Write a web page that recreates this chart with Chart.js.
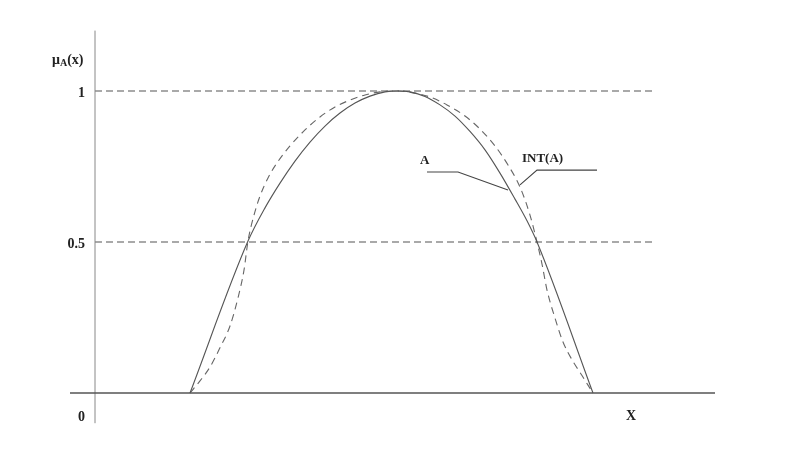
<!DOCTYPE html>
<html>
<head>
<meta charset="utf-8">
<script src="https://cdn.jsdelivr.net/npm/chart.js@4/dist/chart.umd.min.js"></script>
<style>
  html, body { margin: 0; padding: 0; background: #fff; }
  #wrap { width: 795px; height: 452px; }
</style>
</head>
<body>
<div id="wrap"><canvas id="c"></canvas></div>
<script>
// membership function A (solid)
const aX = [95, 153, 170, 185, 200, 215, 230, 245, 260, 275, 290, 303, 315, 330, 345, 360, 375, 390, 405, 420, 432, 442, 498];
const aY = [0, 0.503, 0.613, 0.695, 0.768, 0.831, 0.884, 0.927, 0.960, 0.983, 0.997, 1, 0.997, 0.982, 0.954, 0.917, 0.866, 0.805, 0.728, 0.642, 0.570, 0.5, 0];

// intensified INT(A) (dashed)
const intX = [95, 105, 115, 125, 135, 143, 149, 153, 159, 165, 173, 182, 195, 210, 225, 240, 255, 270, 285, 303,
  320, 335, 352, 370, 385, 400, 413, 425, 435, 442, 447, 452, 460, 468, 477, 487, 493, 498];
const intY = [0, 0.04, 0.086, 0.150, 0.222, 0.315, 0.407, 0.503, 0.589, 0.652, 0.712, 0.762, 0.818, 0.871, 0.914, 0.947, 0.970, 0.987, 0.997, 1,
  0.993, 0.980, 0.954, 0.917, 0.874, 0.818, 0.755, 0.682, 0.589, 0.5, 0.427, 0.341, 0.248, 0.169, 0.110, 0.058, 0.026, 0];

// reference levels and axis labels
const levels = [1, 0.5];
const levelEnd = 558;
const yTickVals = [1, 0.5, 0];
const yTickLabels = ['1', '0.5', '0'];

// leader lines for the curve names
const leadA = { x: [332, 363, 413], y: [0.732, 0.732, 0.672], label: 'A' };
const leadInt = { x: [502, 442, 425], y: [0.738, 0.738, 0.689], label: 'INT(A)' };

const zip = (xs, ys) => xs.map((x, i) => ({ x, y: ys[i] }));

const datasets = [
  // axes
  { data: [{ x: -25, y: 0 }, { x: 620, y: 0 }], borderColor: '#555', borderWidth: 1.3 },
  { data: [{ x: 0, y: -0.1 }, { x: 0, y: 1.2 }], borderColor: '#888', borderWidth: 1 },
  // horizontal dashed levels
  ...levels.map(l => ({
    data: [{ x: 0, y: l }, { x: levelEnd, y: l }],
    borderColor: '#555', borderWidth: 1.2, borderDash: [7, 4]
  })),
  // curves
  { data: zip(aX, aY), borderColor: '#555', borderWidth: 1.1, cubicInterpolationMode: 'monotone' },
  { data: zip(intX, intY), borderColor: '#666', borderWidth: 1.1, borderDash: [7, 5], cubicInterpolationMode: 'monotone' },
  // leaders
  { data: zip(leadA.x, leadA.y), borderColor: '#444', borderWidth: 1.1 },
  { data: zip(leadInt.x, leadInt.y), borderColor: '#444', borderWidth: 1.1 }
];

const labelsPlugin = {
  id: 'labels',
  afterDraw(chart) {
    const { ctx, scales: { x, y } } = chart;
    ctx.save();
    ctx.fillStyle = '#222';
    ctx.textBaseline = 'middle';
    ctx.font = 'bold 14px "Liberation Serif", serif';

    // y tick labels
    ctx.textAlign = 'right';
    yTickVals.forEach((v, i) => {
      let py = y.getPixelForValue(v);
      if (v === 0) py += 22;
      ctx.fillText(yTickLabels[i], x.getPixelForValue(-10), py + 2);
    });

    // axis names
    ctx.textAlign = 'left';
    const ny = y.getPixelForValue(1.1);
    let px = x.getPixelForValue(-43);
    ctx.fillText('\u03bc', px, ny);
    px += ctx.measureText('\u03bc').width;
    ctx.font = 'bold 10px "Liberation Serif", serif';
    ctx.fillText('A', px, ny + 3);
    px += ctx.measureText('A').width;
    ctx.font = 'bold 14px "Liberation Serif", serif';
    ctx.fillText('(x)', px, ny);

    ctx.textAlign = 'center';
    ctx.fillText('X', x.getPixelForValue(536), y.getPixelForValue(0) + 23);

    // curve names
    ctx.font = 'bold 13px "Liberation Serif", serif';
    ctx.textAlign = 'left';
    ctx.fillText(leadA.label, x.getPixelForValue(leadA.x[0] - 7), y.getPixelForValue(leadA.y[0]) - 11);
    ctx.fillText(leadInt.label, x.getPixelForValue(leadInt.x[1] - 15), y.getPixelForValue(leadInt.y[0]) - 11);
    ctx.restore();
  }
};

new Chart(document.getElementById('c'), {
  type: 'line',
  data: { datasets: datasets.map(d => Object.assign({ pointRadius: 0, fill: false, clip: false }, d)) },
  options: {
    responsive: true,
    maintainAspectRatio: false,
    animation: false,
    layout: { padding: { left: 70, right: 80, top: 30.6, bottom: 28.8 } },
    plugins: { legend: { display: false }, tooltip: { enabled: false } },
    scales: {
      x: { type: 'linear', min: -25, max: 620, display: false },
      y: { type: 'linear', min: -0.1, max: 1.2, display: false }
    }
  },
  plugins: [labelsPlugin]
});
</script>
</body>
</html>
